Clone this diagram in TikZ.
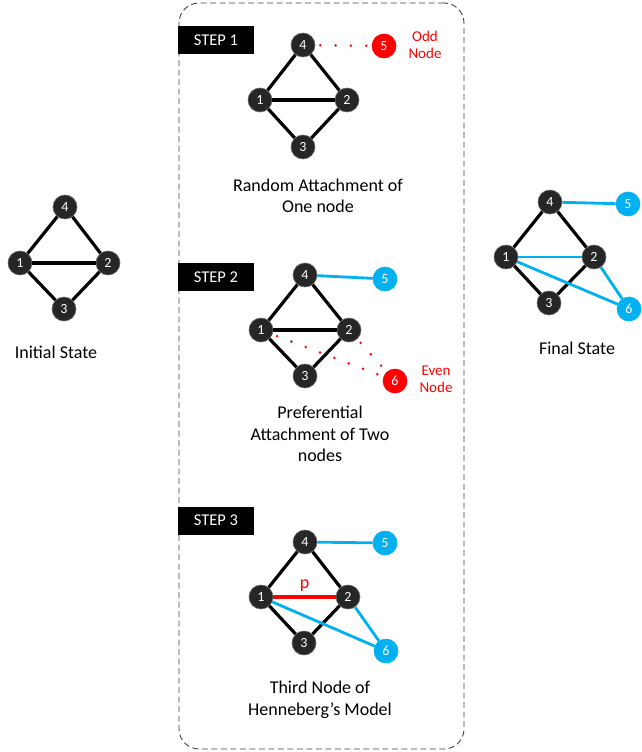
\documentclass[tikz,border=0pt]{standalone}
\usepackage{fontspec}
\setmainfont{Carlito}
\definecolor{ndgray}{HTML}{262626}
\definecolor{cblue}{HTML}{00B0F0}
\definecolor{framegray}{HTML}{404040}
\begin{document}
\begin{tikzpicture}[x=1pt,y=-1pt,
  nd/.style={circle, fill=ndgray, draw=ndgray!70!white, line width=0.6pt, text=white, minimum size=24pt, inner sep=0pt, font=\fontsize{14}{14}\selectfont},
  bn/.style={nd, fill=cblue, draw=cblue},
  rn/.style={nd, fill=red, draw=red},
  edge/.style={line width=3.2pt, black},
  bedge/.style={line width=2.8pt, cblue},
  redge/.style={line width=3.2pt, red},
  dots/.style={red, line width=2.8pt, line cap=round, dash pattern=on 0pt off 15.3pt, dash phase=-5pt},
  stepbox/.style={fill=black, text=white, minimum width=76pt, minimum height=28pt, inner sep=0pt, font=\fontsize{16.5}{16.5}\selectfont},
  capt/.style={align=center, font=\fontsize{18}{21.5}\selectfont},
  redlbl/.style={align=center, text=red, font=\fontsize{15}{17}\selectfont},
  frame/.style={draw=framegray, line width=0.9pt, dash pattern=on 6pt off 3.5pt, rounded corners=20pt, minimum width=285pt, minimum height=746pt, inner sep=0pt}
]
\useasboundingbox (0,0) rectangle (641,752);

% dashed frame
\node[frame] (frm) at (321.5,376) {};

% ---------- Initial state ----------
\node[nd] (i4) at (65,207) {4};
\node[nd] (i1) at (20,263) {1};
\node[nd] (i2) at (108,263) {2};
\node[nd] (i3) at (64,309) {3};
\draw[edge] (i1) -- (i4); \draw[edge] (i4) -- (i2);
\draw[edge] (i1) -- (i2); \draw[edge] (i1) -- (i3); \draw[edge] (i2) -- (i3);
\node[capt] (icap) at (56,352) {Initial State};

% ---------- Step 1 ----------
\node[stepbox] (s1) at (216,40.5) {STEP 1\hspace{6pt}};
\node[nd] (a4) at (303,45) {4};
\node[nd] (a1) at (260,100) {1};
\node[nd] (a2) at (347,100) {2};
\node[nd] (a3) at (303,147) {3};
\node[rn] (a5) at (384,46) {5};
\draw[edge] (a1) -- (a4); \draw[edge] (a4) -- (a2);
\draw[edge] (a1) -- (a2); \draw[edge] (a1) -- (a3); \draw[edge] (a2) -- (a3);
\draw[dots] (a4) -- (a5);
\node[redlbl] (odd) at (425,45) {Odd\\Node};
\node[capt] (c1) at (318,196) {Random Attachment of\\One node};

% ---------- Step 2 ----------
\node[stepbox] (s2) at (216,277) {STEP 2\hspace{6pt}};
\node[nd] (b4) at (305,275) {4};
\node[nd] (b1) at (261,330) {1};
\node[nd] (b2) at (349,330) {2};
\node[nd] (b3) at (305,376) {3};
\node[bn] (b5) at (385,279) {5};
\node[rn] (b6) at (395,381) {6};
\draw[edge] (b1) -- (b4); \draw[edge] (b4) -- (b2);
\draw[edge] (b1) -- (b2); \draw[edge] (b1) -- (b3); \draw[edge] (b2) -- (b3);
\draw[bedge] (b4) -- (b5);
\draw[dots] (b1) -- (b6);
\draw[dots] (b2) -- (b6);
\node[redlbl] (even) at (436,379) {Even\\Node};
\node[capt] (c2) at (320,434) {Preferential\\Attachment of Two\\nodes};

% ---------- Step 3 ----------
\node[stepbox] (s3) at (216,520.5) {STEP 3\hspace{6pt}};
\node[nd] (c4) at (305,542) {4};
\node[nd] (cc1) at (261,597) {1};
\node[nd] (cc2) at (348,597) {2};
\node[nd] (c3) at (304,643) {3};
\node[bn] (c5) at (385,543) {5};
\node[bn] (c6) at (386,651) {6};
\draw[edge] (cc1) -- (c4); \draw[edge] (c4) -- (cc2);
\draw[edge] (cc1) -- (c3); \draw[edge] (cc2) -- (c3);
\draw[redge] (cc1) -- node[above=1pt, text=red, font=\fontsize{18}{18}\selectfont] (plbl) {p} (cc2);
\draw[bedge] (c4) -- (c5);
\draw[bedge] (cc1) -- (c6);
\draw[bedge] (cc2) -- (c6);
\node[capt] (c3cap) at (320,700) {Third Node of\\Henneberg’s Model};

% ---------- Final state ----------
\node[nd] (f4) at (550,202) {4};
\node[nd] (f1) at (506,257) {1};
\node[nd] (f2) at (594,257) {2};
\node[nd] (f3) at (549,303) {3};
\node[bn] (f5) at (628,204) {5};
\node[bn] (f6) at (629,309) {6};
\draw[edge] (f1) -- (f4); \draw[edge] (f4) -- (f2);
\draw[edge] (f1) -- (f3); \draw[edge] (f2) -- (f3);
\draw[bedge] (f1) -- (f2);
\draw[bedge] (f4) -- (f5);
\draw[bedge] (f1) -- (f6);
\draw[bedge] (f2) -- (f6);
\node[capt] (fcap) at (577,348) {Final State};
\end{tikzpicture}
\end{document}
